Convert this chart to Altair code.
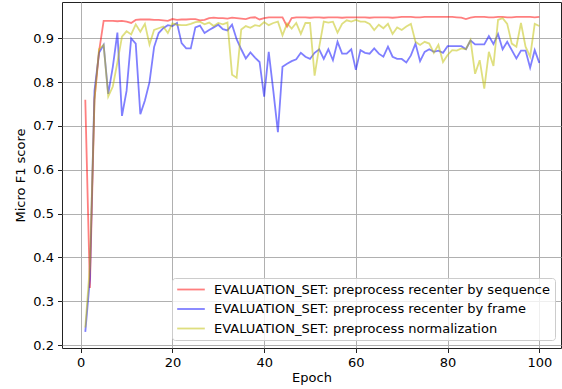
import altair as alt
import pandas as pd

epochs = list(range(1, 101))

series_names = [
    "EVALUATION_SET: preprocess recenter by sequence",
    "EVALUATION_SET: preprocess recenter by frame",
    "EVALUATION_SET: preprocess normalization",
]
series_colors = ["#ff0000", "#0000ff", "#bfbf00"]

recenter_sequence = [
    0.76, 0.33, 0.76, 0.87, 0.940, 0.940, 0.940, 0.939, 0.940, 0.938,
    0.935, 0.942, 0.943, 0.943, 0.943, 0.942, 0.942, 0.941, 0.940, 0.944,
    0.942, 0.943, 0.943, 0.944, 0.944, 0.941, 0.942, 0.946, 0.947, 0.946,
    0.946, 0.945, 0.947, 0.946, 0.945, 0.944, 0.947, 0.948, 0.943, 0.946,
    0.948, 0.948, 0.948, 0.948, 0.927, 0.946, 0.948, 0.948, 0.948, 0.947,
    0.948, 0.948, 0.947, 0.948, 0.948, 0.948, 0.947, 0.948, 0.948, 0.948,
    0.948, 0.948, 0.947, 0.948, 0.948, 0.948, 0.948, 0.947, 0.948, 0.949,
    0.949, 0.949, 0.948, 0.948, 0.949, 0.949, 0.949, 0.949, 0.949, 0.949,
    0.949, 0.948, 0.947, 0.944, 0.947, 0.949, 0.949, 0.949, 0.948, 0.948,
    0.949, 0.949, 0.948, 0.948, 0.949, 0.949, 0.949, 0.949, 0.948, 0.949,
]

recenter_frame = [
    0.23, 0.35, 0.78, 0.867, 0.885, 0.773, 0.835, 0.913, 0.723, 0.78,
    0.90, 0.888, 0.727, 0.758, 0.80, 0.88, 0.912, 0.923, 0.93, 0.928,
    0.935, 0.889, 0.877, 0.877, 0.925, 0.929, 0.912, 0.919, 0.925, 0.931,
    0.921, 0.918, 0.931, 0.898, 0.875, 0.854, 0.868, 0.856, 0.846, 0.767,
    0.869, 0.78, 0.686, 0.835, 0.842, 0.848, 0.852, 0.867, 0.858, 0.853,
    0.867, 0.875, 0.853, 0.875, 0.85, 0.892, 0.865, 0.865, 0.875, 0.828,
    0.873, 0.867, 0.865, 0.877, 0.865, 0.858, 0.881, 0.858, 0.853, 0.853,
    0.845, 0.861, 0.888, 0.848, 0.869, 0.875, 0.869, 0.872, 0.867, 0.882,
    0.882, 0.882, 0.882, 0.875, 0.895, 0.886, 0.886, 0.886, 0.905, 0.887,
    0.91, 0.875, 0.892, 0.873, 0.854, 0.872, 0.872, 0.833, 0.873, 0.844,
]

normalization = [
    0.24, 0.38, 0.76, 0.875, 0.885, 0.767, 0.79, 0.845, 0.904, 0.916,
    0.909, 0.932, 0.915, 0.933, 0.886, 0.919, 0.923, 0.927, 0.912, 0.934,
    0.931, 0.930, 0.930, 0.933, 0.937, 0.938, 0.932, 0.936, 0.928, 0.935,
    0.932, 0.936, 0.817, 0.81, 0.92, 0.928, 0.924, 0.93, 0.928, 0.937,
    0.93, 0.935, 0.938, 0.907, 0.934, 0.922, 0.935, 0.91, 0.935, 0.935,
    0.815, 0.88, 0.938, 0.936, 0.938, 0.913, 0.933, 0.941, 0.938, 0.942,
    0.938, 0.938, 0.933, 0.919, 0.931, 0.923, 0.933, 0.91, 0.925, 0.919,
    0.927, 0.933, 0.892, 0.885, 0.892, 0.888, 0.867, 0.885, 0.846, 0.862,
    0.873, 0.872, 0.877, 0.875, 0.896, 0.819, 0.85, 0.785, 0.869, 0.837,
    0.942, 0.946, 0.933, 0.888, 0.881, 0.935, 0.881, 0.858, 0.933, 0.928,
]

x_ticks = [0, 20, 40, 60, 80, 100]
y_ticks = [0.2, 0.3, 0.4, 0.5, 0.6, 0.7, 0.8, 0.9]

rows = []
for order, (name, vals) in enumerate(zip(series_names, [recenter_sequence, recenter_frame, normalization])):
    for e, v in zip(epochs, vals):
        rows.append({"epoch": e, "score": v, "series": name, "k": order})
df = pd.DataFrame(rows)

FONT = "DejaVu Sans"

chart = (
    alt.Chart(df)
    .mark_line(strokeWidth=1.8, strokeOpacity=0.5)
    .encode(
        x=alt.X(
            "epoch:Q",
            scale=alt.Scale(domain=[-4.08, 104.73], nice=False, zero=False),
            axis=alt.Axis(values=x_ticks, title="Epoch", format="d", titlePadding=2),
        ),
        y=alt.Y(
            "score:Q",
            scale=alt.Scale(domain=[0.1932, 0.9829], nice=False, zero=False),
            axis=alt.Axis(values=y_ticks, format=".1f", title="Micro F1 score", titlePadding=5),
        ),
        color=alt.Color(
            "series:N",
            scale=alt.Scale(domain=series_names, range=series_colors),
            legend=alt.Legend(
                title=None,
                orient="none",
                legendX=110,
                legendY=276,
                symbolType="stroke",
                symbolSize=762,
                symbolStrokeWidth=1.8,
                symbolOpacity=0.5,
                clipHeight=15,
                rowPadding=4.5,
                padding=4,
                symbolOffset=0,
                labelOffset=8,
                labelFontSize=13,
                labelFont=FONT,
                labelColor="#000000",
                labelLimit=0,
                fillColor="rgba(255,255,255,0.8)",
                strokeColor="#cccccc",
                cornerRadius=3,
            ),
        ),
        order=alt.Order("k:Q"),
    )
    .properties(
        width=499,
        height=346,
        autosize=alt.AutoSizeParams(type="none"),
        padding={"left": 62, "top": 2, "right": 1, "bottom": 41},
    )
    .configure_view(stroke="#222222", strokeWidth=1)
    .configure_axis(
        domain=False,
        grid=True,
        gridColor="#b0b0b0",
        gridWidth=1,
        tickColor="#222222",
        tickSize=4.5,
        labelPadding=4,
        labelFont=FONT,
        labelFontSize=13,
        labelColor="#000000",
        titleFont=FONT,
        titleFontSize=13,
        titleFontWeight="normal",
        titleColor="#000000",
    )
)

chart.save("out.html", embed_options={"renderer": "svg", "actions": False})
